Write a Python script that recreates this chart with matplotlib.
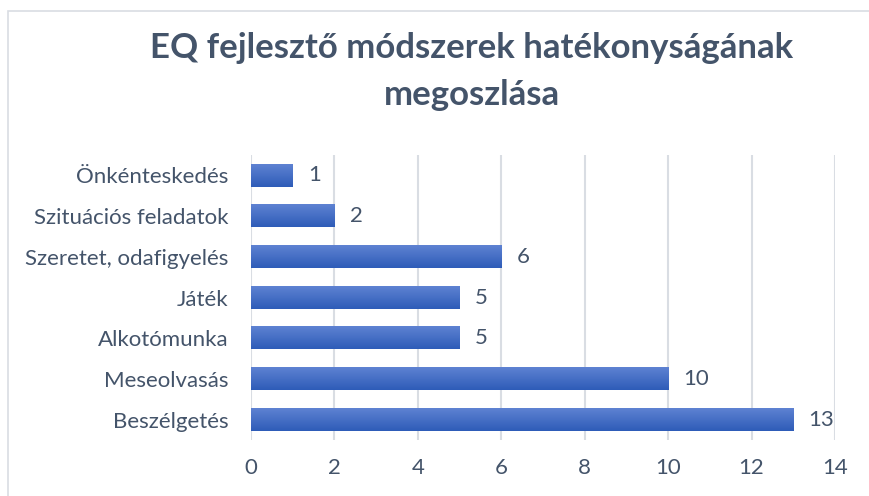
import matplotlib.pyplot as plt
import matplotlib.patches as mpatches
import numpy as np
from matplotlib.colors import LinearSegmentedColormap

# Adatok (alulról felfelé, ahogy a diagramon)
kategoriak = ['Beszélgetés', 'Meseolvasás', 'Alkotómunka', 'Játék',
              'Szeretet, odafigyelés', 'Szituációs feladatok', 'Önkénteskedés']
ertekek = [13, 10, 5, 5, 6, 2, 1]
x_tickek = [0, 2, 4, 6, 8, 10, 12, 14]

cim1 = 'EQ fejlesztő módszerek hatékonyságának'
cim2 = 'megoszlása'

szoveg_szin = '#44546A'
racs_szin = '#D9DDE3'

fig = plt.figure(figsize=(8.69, 4.96), dpi=100)

# keret a diagram körül
keret = mpatches.Rectangle((8 / 869, -0.1), 1.0, 1 - 11 / 496 + 0.1,
                           transform=fig.transFigure, fill=False,
                           edgecolor='#D9DDE3', linewidth=1.2)
fig.patches.append(keret)

ax = fig.add_axes([251 / 869, 1 - 440 / 496, 584 / 869, 285 / 496])

y = np.arange(len(kategoriak))
oszlopok = ax.barh(y, ertekek, height=0.55, color='none', zorder=3)

# színátmenet az oszlopokon
cmap = LinearSegmentedColormap.from_list('kek', ['#2E5CB8', '#5E82D2'])
grad = np.linspace(0, 1, 100).reshape(-1, 1)
for o in oszlopok:
    x0, y0 = o.get_x(), o.get_y()
    w, h = o.get_width(), o.get_height()
    ax.imshow(grad, cmap=cmap, aspect='auto', origin='lower',
              extent=(x0, x0 + w, y0, y0 + h), zorder=3)

for yi, v in zip(y, ertekek):
    ax.annotate(str(v), (v, yi), xytext=(11, 0), textcoords='offset points',
                va='center', ha='left', fontsize=16, color=szoveg_szin,
                family='Lato')

ax.set_xlim(0, 14)
ax.set_ylim(-0.5, len(kategoriak) - 0.5)
ax.set_xticks(x_tickek)
ax.set_xticklabels([str(t) for t in x_tickek], family='Lato', fontsize=16,
                   color=szoveg_szin)
ax.set_yticks(y)
ax.set_yticklabels(kategoriak, family='Lato', fontsize=16, color=szoveg_szin)
ax.tick_params(axis='both', length=0)
ax.tick_params(axis='x', pad=13)
ax.tick_params(axis='y', pad=16)
ax.grid(True, axis='x', color=racs_szin, linewidth=1.5, zorder=0)
ax.set_axisbelow(True)
for s in ax.spines.values():
    s.set_visible(False)

fig.text(0.543, 1 - 48 / 496, cim1, ha='center', va='center', fontsize=25,
         fontweight='bold', color=szoveg_szin, family='Lato')
fig.text(0.543, 1 - 95 / 496, cim2, ha='center', va='center', fontsize=25,
         fontweight='bold', color=szoveg_szin, family='Lato')

plt.savefig('out.png', dpi=100)
